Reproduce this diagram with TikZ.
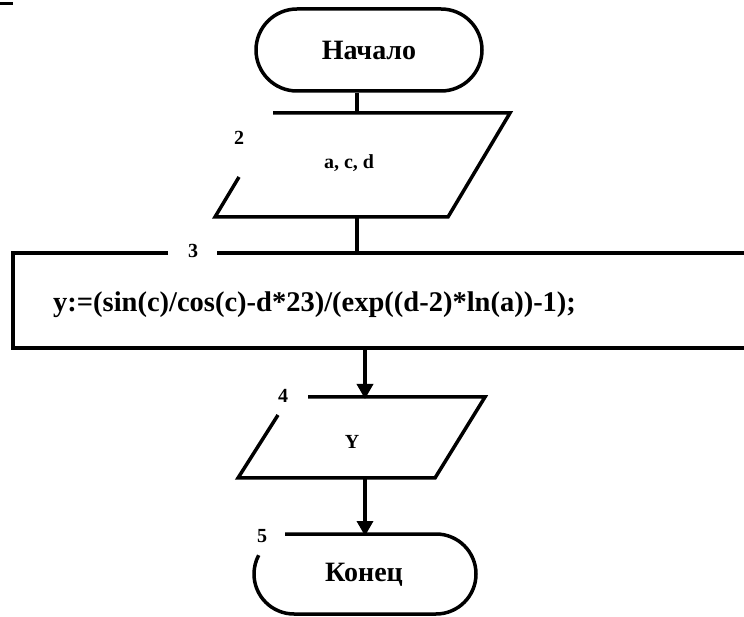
\documentclass[tikz,border=0pt]{standalone}
\usepackage{fontspec}
\setmainfont{Liberation Serif}
\usetikzlibrary{arrows.meta}
\begin{document}
\begin{tikzpicture}[x=1pt,y=1pt,
  lw/.style={line width=3.5pt},
  term/.style={draw, lw, rounded corners=41pt, minimum width=226pt, minimum height=82pt, inner sep=0pt, font=\fontsize{28}{32}\selectfont\bfseries},
  txt/.style={inner sep=0pt, font=\fontsize{20}{24}\selectfont\bfseries},
  lbl/.style={inner sep=0pt, font=\fontsize{20}{24}\selectfont\bfseries},
  formula/.style={inner sep=0pt, font=\fontsize{28.5}{32}\selectfont\bfseries},
  endtxt/.style={inner sep=0pt, font=\fontsize{28}{32}\selectfont\bfseries},
  arr/.style={lw, -{Triangle[length=15pt,width=16pt]}, shorten >=-2pt}
]
\useasboundingbox (0,0) rectangle (744,616);
\clip (0,0) rectangle (744,616);
% top-left mark
\draw[line width=3pt] (0,612) -- (13,612);

% 1: start
\node[term] (start) at (369,566) {Начало};
\coordinate (s1) at (357,525);

% 2: input parallelogram
\coordinate (p2tr) at (510,503);
\coordinate (p2br) at (448,399);
\coordinate (p2bl) at (215,399);
\coordinate (p2top) at (357,503);
\coordinate (p2bot) at (357,399);
\draw[lw, line join=miter] (273,503) -- (p2tr) -- (p2br) -- (p2bl) -- (239,439);
\node[txt] (in2) at (349,453) {a,\ c,\ d};
\node[lbl] (l2) at (239,478) {2};

% 3: process
\coordinate (p3top) at (357,363);
\coordinate (p3bot) at (365,268);
\draw[lw, line join=miter] (168,363) -- (13,363) -- (13,268) -- (760,268);
\draw[lw] (217,363) -- (760,363);
\node[lbl] (l3) at (193,365) {3};
\node[formula, anchor=base west] (proc) at (53,304) {y:=(sin(c)/cos(c)-d*23)/(exp((d-2)*ln(a))-1);};

% 4: output parallelogram
\coordinate (p4top) at (365,219);
\coordinate (p4bot) at (365,138);
\draw[lw, line join=miter] (308,219) -- (485,219) -- (435,138) -- (238,138) -- (278,201);
\node[txt] (out4) at (352,174) {Y};
\node[lbl] (l4) at (283,220) {4};

% 5: end
\coordinate (p5top) at (365,82);
\draw[lw] (285,82) -- (436,82) arc[start angle=90, end angle=-90, radius=40] -- (294,2) arc[start angle=270, end angle=152, radius=40];
\node[endtxt] (fin) at (364,41) {Конец};
\node[lbl] (l5) at (262,80) {5};

% connectors
\draw[lw] (start.south -| s1) -- (p2top);
\draw[lw] (p2bot) -- (p3top);
\draw[arr] (p3bot) -- (p4top);
\draw[arr] (p4bot) -- (p5top);
\end{tikzpicture}
\end{document}
